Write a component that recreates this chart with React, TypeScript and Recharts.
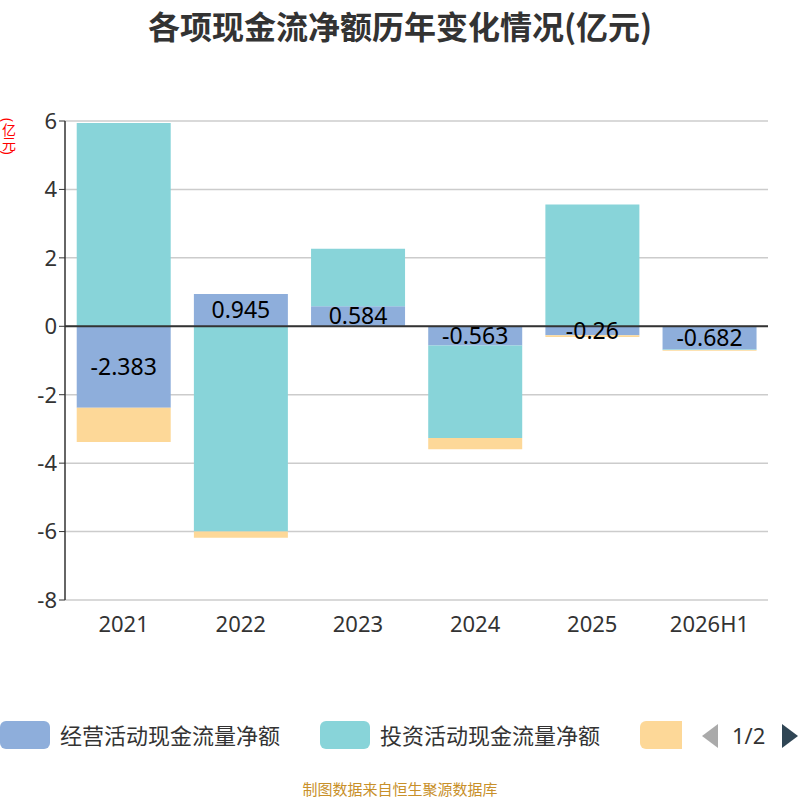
import React from 'react';
import { BarChart, Bar, XAxis, YAxis, CartesianGrid, ReferenceLine, LabelList } from 'recharts';

const categories = ['2021', '2022', '2023', '2024', '2025', '2026H1'];
const operating = [-2.383, 0.945, 0.584, -0.563, -0.26, -0.682];
const investing = [5.94, -6.0, 1.68, -2.7, 3.56, -0.01];
const financing = [-1.0, -0.18, 0, -0.33, -0.05, -0.02];
const yTicks = [-8, -6, -4, -2, 0, 2, 4, 6];

const data = categories.map((c, i) => ({ name: c, op: operating[i], inv: investing[i], fin: financing[i] }));
const font = '"Noto Sans", "Noto Sans CJK SC", sans-serif';

export default function App() {
  return (
    <div style={{ position: 'fixed', left: 0, top: 0, width: 800, height: 800, overflow: 'hidden', fontFamily: font, background: '#fff' }}>
      <div style={{ position: 'absolute', top: 2, width: 800, textAlign: 'center', fontSize: 32, fontWeight: 'bold', color: '#333', fontFamily: '"Noto Sans CJK SC", sans-serif' }}>各项现金流净额历年变化情况(亿元)</div>
      <div style={{ position: 'absolute', left: 1, top: 118, writingMode: 'vertical-rl', color: 'red', fontSize: 14, lineHeight: '14px' }}>(亿元)</div>
      <div style={{ position: 'absolute', left: 0, top: 0 }}>
        <BarChart width={800} height={800} data={data} stackOffset="sign" barCategoryGap="10%" margin={{ top: 121, left: 15, right: 32, bottom: 170 }}>
          <CartesianGrid vertical={false} stroke="#ccc" strokeWidth={1.5} />
          <XAxis dataKey="name" axisLine={false} tickLine={false} height={30} tick={{ fontSize: 22, fill: '#333', fontFamily: font }} dy={8} />
          <YAxis domain={[-8, 6]} ticks={yTicks} width={50} axisLine={{ stroke: '#333', strokeWidth: 1.5 }} tickLine={{ stroke: '#333' }} tick={{ fontSize: 22, fill: '#333', fontFamily: font }} />
          <ReferenceLine y={0} stroke="#333" strokeWidth={2} />
          <Bar dataKey="op" stackId="a" fill="#8eaedb" isAnimationActive={false}>
            <LabelList dataKey="op" position="center" style={{ fontSize: 23, fill: '#000', fontFamily: font }} />
          </Bar>
          <Bar dataKey="inv" stackId="a" fill="#88d4d9" isAnimationActive={false} />
          <Bar dataKey="fin" stackId="a" fill="#fdd898" isAnimationActive={false} />
        </BarChart>
      </div>
      <div style={{ position: 'absolute', top: 719, left: 0, width: 800, height: 32, fontSize: 22, color: '#333' }}>
        <div style={{ position: 'absolute', left: 0, top: 2, width: 50, height: 28, background: '#8eaedb', borderRadius: 6 }} />
        <div style={{ position: 'absolute', left: 60, top: 0, lineHeight: '32px' }}>经营活动现金流量净额</div>
        <div style={{ position: 'absolute', left: 320, top: 2, width: 50, height: 28, background: '#88d4d9', borderRadius: 6 }} />
        <div style={{ position: 'absolute', left: 380, top: 0, lineHeight: '32px' }}>投资活动现金流量净额</div>
        <div style={{ position: 'absolute', left: 640, top: 2, width: 42, height: 28, background: '#fdd898', borderTopLeftRadius: 6, borderBottomLeftRadius: 6 }} />
        <svg style={{ position: 'absolute', left: 700, top: 5 }} width={20} height={24}><polygon points="18,0 18,24 2,12" fill="#aaa" /></svg>
        <div style={{ position: 'absolute', left: 732, top: 0, lineHeight: '32px' }}>1/2</div>
        <svg style={{ position: 'absolute', left: 782, top: 5 }} width={20} height={24}><polygon points="0,0 0,24 16,12" fill="#2f4554" /></svg>
      </div>
      <div style={{ position: 'absolute', top: 780, width: 800, textAlign: 'center', fontSize: 15, lineHeight: '18px', color: '#c8902a' }}>制图数据来自恒生聚源数据库</div>
    </div>
  );
}
